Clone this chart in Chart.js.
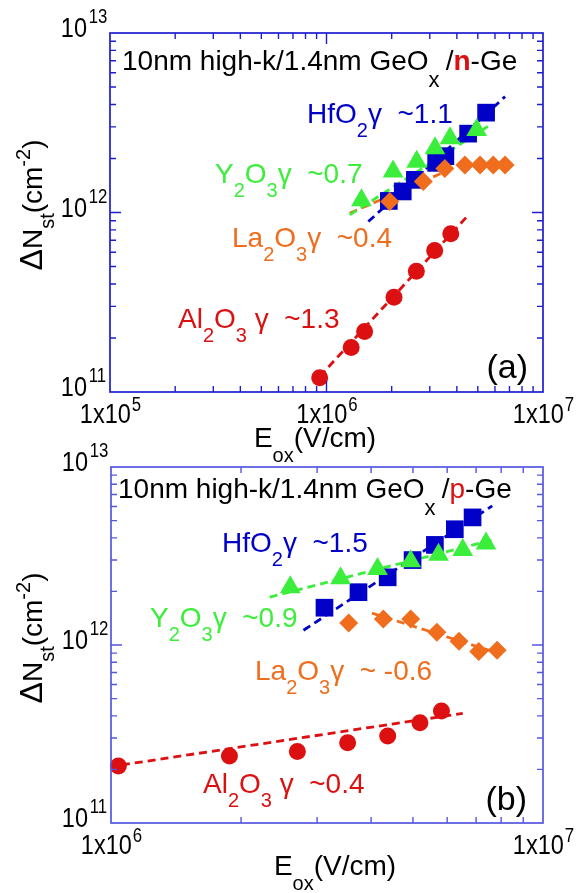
<!DOCTYPE html>
<html>
<head>
<meta charset="utf-8">
<script src="https://cdn.jsdelivr.net/npm/chart.js@4.4.1/dist/chart.umd.min.js"></script>
<style>
  html, body { margin: 0; padding: 0; background: #fff; }
  #wrap { position: relative; width: 580px; height: 893px; }
  #wrap canvas { position: absolute; left: 0; top: 0; }
</style>
</head>
<body>
<div id="wrap">
  <canvas id="chartA" width="580" height="893"></canvas>
  <canvas id="chartB" width="580" height="893"></canvas>
</div>
<script>
// ---- panel (a): n-Ge, Eox (V/cm) vs dNst (cm^-2) ----
const aAl2O3X = [9.3e5, 1.30e6, 1.50e6, 2.05e6, 2.60e6, 3.16e6, 3.75e6];
const aAl2O3Y = [1.20e11, 1.77e11, 2.17e11, 3.37e11, 4.71e11, 6.14e11, 7.62e11];
const aAl2O3FitX = [9.3e5, 4.51e6];
const aAl2O3FitY = [1.22e11, 9.64e11];

const aHfO2X = [1.94e6, 2.25e6, 2.56e6, 3.21e6, 3.54e6, 4.51e6, 5.46e6];
const aHfO2Y = [1.16e12, 1.31e12, 1.52e12, 1.89e12, 2.06e12, 2.75e12, 3.60e12];
const aHfO2FitX = [1.56e6, 6.68e6];
const aHfO2FitY = [8.9e11, 4.42e12];

const aY2O3X = [1.45e6, 2.03e6, 2.61e6, 3.17e6, 3.72e6, 4.94e6];
const aY2O3Y = [1.17e12, 1.69e12, 1.92e12, 2.28e12, 2.59e12, 2.88e12];
const aY2O3FitX = [1.28e6, 5.69e6];
const aY2O3FitY = [9.7e11, 3.07e12];

const aLa2O3X = [1.96e6, 2.80e6, 3.52e6, 4.36e6, 5.12e6, 5.89e6, 6.68e6];
const aLa2O3Y = [1.15e12, 1.49e12, 1.76e12, 1.84e12, 1.84e12, 1.84e12, 1.84e12];
const aLa2O3FitX = [1.28e6, 3.9e6];
const aLa2O3FitY = [9.9e11, 1.78e12];

// ---- panel (b): p-Ge ----
const bAl2O3X = [1.04e6, 1.88e6, 2.70e6, 3.53e6, 4.37e6, 5.19e6, 5.82e6];
const bAl2O3Y = [2.09e11, 2.38e11, 2.52e11, 2.82e11, 3.08e11, 3.66e11, 4.26e11];
const bAl2O3FitX = [1.06e6, 6.52e6];
const bAl2O3FitY = [2.12e11, 4.13e11];

const bHfO2X = [3.12e6, 3.74e6, 4.37e6, 4.99e6, 5.62e6, 6.25e6, 6.87e6];
const bHfO2Y = [1.62e12, 1.98e12, 2.40e12, 3.00e12, 3.65e12, 4.47e12, 5.21e12];
const bHfO2FitX = [2.79e6, 7.63e6];
const bHfO2FitY = [1.21e12, 6.05e12];

const bY2O3X = [2.60e6, 3.40e6, 4.14e6, 4.94e6, 5.73e6, 6.52e6, 7.38e6];
const bY2O3Y = [2.11e12, 2.37e12, 2.67e12, 2.95e12, 3.21e12, 3.42e12, 3.72e12];
const bY2O3FitX = [2.33e6, 7.78e6];
const bY2O3FitY = [1.86e12, 3.94e12];

const bLa2O3X = [3.55e6, 4.27e6, 4.94e6, 5.68e6, 6.39e6, 7.10e6, 7.83e6];
const bLa2O3Y = [1.33e12, 1.40e12, 1.40e12, 1.18e12, 1.05e12, 9.2e11, 9.33e11];
const bLa2O3FitX = [4.02e6, 7.94e6];
const bLa2O3FitY = [1.51e12, 8.94e11];

// axis ranges
const aXRange = [1e5, 1e7];
const bXRange = [1e6, 1e7];
const yRange = [1e11, 1e13];

const FONT = '"Liberation Sans", Arial, Helvetica, sans-serif';
const BLUE = '#0000c8', GREEN = '#3cee3c', ORANGE = '#ef6d1c', RED = '#dc1010';

const pts = (xs, ys) => xs.map((x, i) => ({ x, y: ys[i] }));

const markers = (label, xs, ys, color, style, r, order) => ({
  label, data: pts(xs, ys), showLine: false, clip: false, order,
  backgroundColor: color, borderColor: color, borderWidth: 0,
  pointStyle: style, pointRadius: r, pointHoverRadius: r
});

const fit = (label, xs, ys, color, order) => ({
  label, data: pts(xs, ys), showLine: true, clip: false, order, fill: false,
  borderColor: color, borderWidth: 2.8, borderDash: [8, 5], pointRadius: 0
});

// text runs: [{t, c, s, dy, b}]
function drawRuns(ctx, x, y, parts, size) {
  let cx = x;
  parts.forEach(p => {
    ctx.font = (p.b ? 'bold ' : '') + (p.s || size) + 'px ' + FONT;
    ctx.fillStyle = p.c || '#000';
    ctx.fillText(p.t, cx, y + (p.dy || 0));
    cx += ctx.measureText(p.t).width;
  });
  return cx - x;
}
function runsWidth(ctx, parts, size) {
  let w = 0;
  parts.forEach(p => {
    ctx.font = (p.b ? 'bold ' : '') + (p.s || size) + 'px ' + FONT;
    w += ctx.measureText(p.t).width;
  });
  return w;
}

const sub = (t, c) => ({ t, c, s: 20, dy: 14 });

function logTicks(min, max) {
  const out = [];
  for (let e = Math.floor(Math.log10(min)); e < Math.ceil(Math.log10(max)); e++) {
    for (let m = 1; m < 10; m++) {
      const v = m * Math.pow(10, e);
      if (v > min * 1.0001 && v < max * 0.9999) out.push([v, m === 1]);
    }
  }
  return out;
}

// frame, inner ticks, tick labels, titles, notes
const framePlugin = {
  id: 'frame',
  afterDraw(chart, args, o) {
    const { ctx, chartArea: a } = chart;
    const xs = chart.scales.x, ys = chart.scales.y;
    ctx.save();
    ctx.strokeStyle = o.color;
    ctx.lineWidth = 1.7;
    ctx.strokeRect(a.left, a.top, a.right - a.left, a.bottom - a.top);
    ctx.lineWidth = 1.4;
    ctx.beginPath();
    logTicks(xs.min, xs.max).forEach(([v, major]) => {
      const px = xs.getPixelForValue(v), len = major ? 11 : 6;
      ctx.moveTo(px, a.bottom); ctx.lineTo(px, a.bottom - len);
      ctx.moveTo(px, a.top); ctx.lineTo(px, a.top + len);
    });
    logTicks(ys.min, ys.max).forEach(([v, major]) => {
      const py = ys.getPixelForValue(v), len = major ? 11 : 6;
      ctx.moveTo(a.left, py); ctx.lineTo(a.left + len, py);
      ctx.moveTo(a.right, py); ctx.lineTo(a.right - len, py);
    });
    ctx.stroke();

    // x tick labels 1x10^n
    ctx.textBaseline = 'alphabetic';
    for (let e = Math.round(Math.log10(xs.min)); e <= Math.round(Math.log10(xs.max)); e++) {
      const px = xs.getPixelForValue(Math.pow(10, e));
      ctx.save();
      ctx.translate(px, a.bottom + 31);
      ctx.scale(0.84, 1);
      ctx.font = '28px ' + FONT;
      const w1 = ctx.measureText('1x10').width;
      ctx.font = '20px ' + FONT;
      const w2 = ctx.measureText(String(e)).width;
      const x0 = -(w1 + w2) / 2;
      ctx.fillStyle = '#000';
      ctx.font = '28px ' + FONT;
      ctx.fillText('1x10', x0, 0);
      ctx.font = '20px ' + FONT;
      ctx.fillText(String(e), x0 + w1 + 1, -12);
      ctx.restore();
    }
    // y tick labels 10^n
    for (let e = Math.round(Math.log10(ys.min)); e <= Math.round(Math.log10(ys.max)); e++) {
      const py = ys.getPixelForValue(Math.pow(10, e));
      ctx.save();
      ctx.translate(a.left - 23, py + 4);
      ctx.scale(0.84, 1);
      ctx.fillStyle = '#000';
      ctx.font = '28px ' + FONT;
      ctx.textAlign = 'right';
      ctx.fillText('10', 0, 0);
      ctx.font = '20px ' + FONT;
      ctx.textAlign = 'left';
      ctx.fillText(String(e), 2, -14);
      ctx.restore();
    }

    // x title
    const xt = [{ t: 'E' }, { t: 'ox', s: 20, dy: 15 }, { t: '(V/cm)' }];
    drawRuns(ctx, o.xTitle[0] - runsWidth(ctx, xt, 28) / 2, o.xTitle[1], xt, 28);

    // y title (rotated)
    const yt = [{ t: 'Δ', s: 32 }, { t: 'N' }, { t: 'st', s: 20, dy: 12 }, { t: '(cm' }, { t: '-2', s: 20, dy: -12 }, { t: ')' }];
    const yw = runsWidth(ctx, yt, 28);
    ctx.save();
    ctx.translate(42, o.yTitleCenter + yw / 2);
    ctx.rotate(-Math.PI / 2);
    drawRuns(ctx, 0, 0, yt, 28);
    ctx.restore();

    // header line and notes
    drawRuns(ctx, o.header[0], o.header[1], o.header[2], 28);
    o.notes.forEach(n => drawRuns(ctx, n[0], n[1], n[2], 28));

    // panel letter
    ctx.font = '34px ' + FONT;
    ctx.fillStyle = '#000';
    ctx.textAlign = 'right';
    ctx.fillText(o.letter[0], o.letter[1], o.letter[2]);
    ctx.restore();
  }
};

function formula(a, n, b, m, rest, c) {
  const out = [{ t: a, c }, sub(n, c)];
  if (b) { out.push({ t: b, c }); out.push(sub(m, c)); }
  out.push({ t: rest, c });
  return out;
}

function makeChart(id, xRange, padding, datasets, frame) {
  return new Chart(document.getElementById(id), {
    type: 'scatter',
    data: { datasets },
    options: {
      responsive: false,
      animation: false,
      events: [],
      layout: { padding },
      plugins: { legend: { display: false }, tooltip: { enabled: false }, frame },
      scales: {
        x: { type: 'logarithmic', min: xRange[0], max: xRange[1], display: false },
        y: { type: 'logarithmic', min: yRange[0], max: yRange[1], display: false }
      }
    },
    plugins: [framePlugin]
  });
}

makeChart('chartA', aXRange, { left: 110, top: 33, right: 37, bottom: 501 }, [
  markers('Y2O3', aY2O3X, aY2O3Y, GREEN, 'triangle', 12, 1),
  markers('La2O3', aLa2O3X, aLa2O3Y, ORANGE, 'rectRot', 9.5, 2),
  markers('HfO2', aHfO2X, aHfO2Y, BLUE, 'rect', 12.5, 3),
  markers('Al2O3', aAl2O3X, aAl2O3Y, RED, 'circle', 8.5, 4),
  fit('Y2O3 fit', aY2O3FitX, aY2O3FitY, GREEN, 5),
  fit('La2O3 fit', aLa2O3FitX, aLa2O3FitY, ORANGE, 6),
  fit('HfO2 fit', aHfO2FitX, aHfO2FitY, BLUE, 7),
  fit('Al2O3 fit', aAl2O3FitX, aAl2O3FitY, RED, 8)
], {
  color: '#1e1ed0',
  xTitle: [315, 447],
  yTitleCenter: 205,
  header: [122, 70, [{ t: '10nm high-k/1.4nm GeO' }, { t: 'x ', s: 22, dy: 17 }, { t: '/' }, { t: 'n', c: RED, b: true }, { t: '-Ge' }]],
  notes: [
    [307, 123, formula('HfO', '2', null, null, 'γ  ~1.1', BLUE)],
    [215, 183, formula('Y', '2', 'O', '3', 'γ  ~0.7', GREEN)],
    [232, 247, formula('La', '2', 'O', '3', 'γ  ~0.4', ORANGE)],
    [178, 328, formula('Al', '2', 'O', '3', ' γ  ~1.3', RED)]
  ],
  letter: ['(a)', 528, 378]
});

makeChart('chartB', bXRange, { left: 111, top: 467, right: 37, bottom: 70 }, [
  markers('Y2O3', bY2O3X, bY2O3Y, GREEN, 'triangle', 12, 1),
  markers('La2O3', bLa2O3X, bLa2O3Y, ORANGE, 'rectRot', 9.5, 2),
  markers('HfO2', bHfO2X, bHfO2Y, BLUE, 'rect', 12.5, 3),
  markers('Al2O3', bAl2O3X, bAl2O3Y, RED, 'circle', 8.5, 4),
  fit('Y2O3 fit', bY2O3FitX, bY2O3FitY, GREEN, 5),
  fit('La2O3 fit', bLa2O3FitX, bLa2O3FitY, ORANGE, 6),
  fit('HfO2 fit', bHfO2FitX, bHfO2FitY, BLUE, 7),
  fit('Al2O3 fit', bAl2O3FitX, bAl2O3FitY, RED, 8)
], {
  color: '#5656e0',
  xTitle: [335, 875],
  yTitleCenter: 638,
  header: [118, 498, [{ t: '10nm high-k/1.4nm GeO' }, { t: 'x ', s: 22, dy: 17 }, { t: '/' }, { t: 'p', c: RED }, { t: '-Ge' }]],
  notes: [
    [222, 552, formula('HfO', '2', null, null, 'γ  ~1.5', BLUE)],
    [150, 627, formula('Y', '2', 'O', '3', 'γ  ~0.9', GREEN)],
    [255, 680, formula('La', '2', 'O', '3', 'γ  ~ -0.6', ORANGE)],
    [203, 793, formula('Al', '2', 'O', '3', ' γ  ~0.4', RED)]
  ],
  letter: ['(b)', 527, 810]
});
</script>
</body>
</html>
